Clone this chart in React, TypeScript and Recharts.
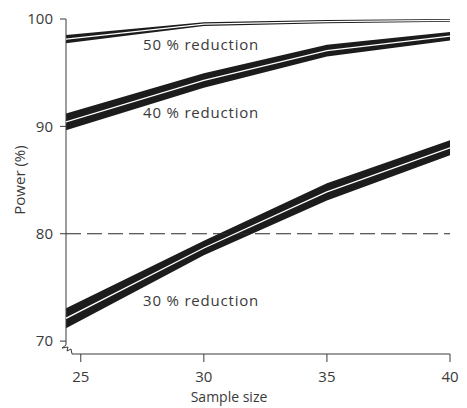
import React from 'react';
import { ComposedChart, Area, Line, XAxis, YAxis, ReferenceLine, ReferenceDot, Label } from 'recharts';

// sample sizes (first point sits on the y-axis)
const sampleSizes = [24.4, 30, 35, 40];
// upper / lower edge of each power band (%)
const reduction50Hi = [98.5, 99.7, 99.9, 100];
const reduction50Lo = [97.75, 99.35, 99.6, 99.75];
const reduction40Hi = [91.2, 94.95, 97.6, 98.8];
const reduction40Lo = [89.65, 93.6, 96.5, 98.0];
const reduction30Hi = [73.05, 79.35, 84.7, 88.7];
const reduction30Lo = [71.2, 78.0, 83.1, 87.3];

const xTicks = [25, 30, 35, 40];
const yTicks = [70, 80, 90, 100];
const targetPower = 80;

const bandLabels = [
  { text: '50 % reduction', x: 27.53, y: 97.6 },
  { text: '40 % reduction', x: 27.53, y: 91.25 },
  { text: '30 % reduction', x: 27.53, y: 73.8 },
];

const data = sampleSizes.map((size, i) => ({
  size,
  r50: [reduction50Lo[i], reduction50Hi[i]],
  r40: [reduction40Lo[i], reduction40Hi[i]],
  r30: [reduction30Lo[i], reduction30Hi[i]],
  m50: (reduction50Lo[i] + reduction50Hi[i]) / 2,
  m40: (reduction40Lo[i] + reduction40Hi[i]) / 2,
  m30: (reduction30Lo[i] + reduction30Hi[i]) / 2,
}));

const INK = '#1c1c1c';
const TEXT = '#3a3a3a';
const FONT = '"Open Sans", sans-serif';

const bands = ['50', '40', '30'];

const AxisBreak = (props: any) => {
  const { cx, cy } = props;
  return (
    <path
      d={`M${cx},${cy - 12} L${cx},${cy - 9} L${cx - 4},${cy - 6} L${cx + 2},${cy - 7} L${cx + 1},${cy - 3} L${cx + 5},${cy - 5} L${cx + 6},${cy} L${cx + 9},${cy}`}
      fill="none"
      stroke={TEXT}
      strokeWidth={1}
    />
  );
};

const BandLabel = (text: string) => (props: any) => (
  <text x={props.cx} y={props.cy} dy="0.35em" fill={TEXT} fontSize={15} fontFamily={FONT} letterSpacing={0.8}>
    {text}
  </text>
);

export default function App() {
  return (
    <div style={{ position: 'absolute', left: 0, top: 0, background: '#fff' }}>
      <ComposedChart width={467} height={408} data={data} margin={{ top: 19, right: 17, bottom: 0, left: 0 }}>
        <XAxis
          type="number"
          dataKey="size"
          domain={[24.4, 40]}
          ticks={xTicks}
          allowDataOverflow
          axisLine={false}
          tickLine={{ stroke: TEXT }}
          tickSize={8}
          tickMargin={9}
          height={54}
          tick={{ fill: TEXT, fontSize: 15, fontFamily: FONT }}
        >
          <Label
            content={() => (
              <text x={229} y={402} textAnchor="middle" fill={TEXT} fontSize={14} fontFamily={FONT}>
                Sample size
              </text>
            )}
          />
        </XAxis>
        <YAxis
          type="number"
          domain={[68.8, 100]}
          ticks={yTicks}
          allowDataOverflow
          axisLine={false}
          tickLine={{ stroke: TEXT }}
          tickSize={6}
          tickMargin={7}
          width={66}
          tick={{ fill: TEXT, fontSize: 15, fontFamily: FONT }}
        >
          <Label
            content={(p: any) => {
              const vb = p.viewBox;
              const x = vb.x + 20;
              const y = 180;
              return (
                <text x={x} y={y} transform={`rotate(-90 ${x} ${y})`} textAnchor="middle" dy="0.35em" fill={TEXT} fontSize={15} fontFamily={FONT}>
                  Power (%)
                </text>
              );
            }}
          />
        </YAxis>

        <ReferenceLine segment={[{ x: 24.4, y: 69.9 }, { x: 24.4, y: 100 }]} stroke={TEXT} strokeWidth={1} />
        <ReferenceLine segment={[{ x: 24.77, y: 68.8 }, { x: 40, y: 68.8 }]} stroke={TEXT} strokeWidth={1} />
        <ReferenceDot x={24.4} y={68.8} r={0} shape={AxisBreak} />

        <ReferenceLine y={targetPower} stroke="#2a2a2a" strokeWidth={1.2} strokeDasharray="15 6" />

        {bands.map((b) => (
          <Area
            key={'band' + b}
            type="linear"
            dataKey={'r' + b}
            stroke="none"
            fill={INK}
            fillOpacity={1}
            dot={false}
            activeDot={false}
            isAnimationActive={false}
          />
        ))}
        {bands.map((b) => (
          <Line
            key={'gap' + b}
            type="linear"
            dataKey={'m' + b}
            stroke="#ffffff"
            strokeWidth={1.3}
            dot={false}
            activeDot={false}
            isAnimationActive={false}
          />
        ))}

        {bandLabels.map((l) => (
          <ReferenceDot key={l.text} x={l.x} y={l.y} r={0} shape={BandLabel(l.text)} />
        ))}
      </ComposedChart>
    </div>
  );
}
